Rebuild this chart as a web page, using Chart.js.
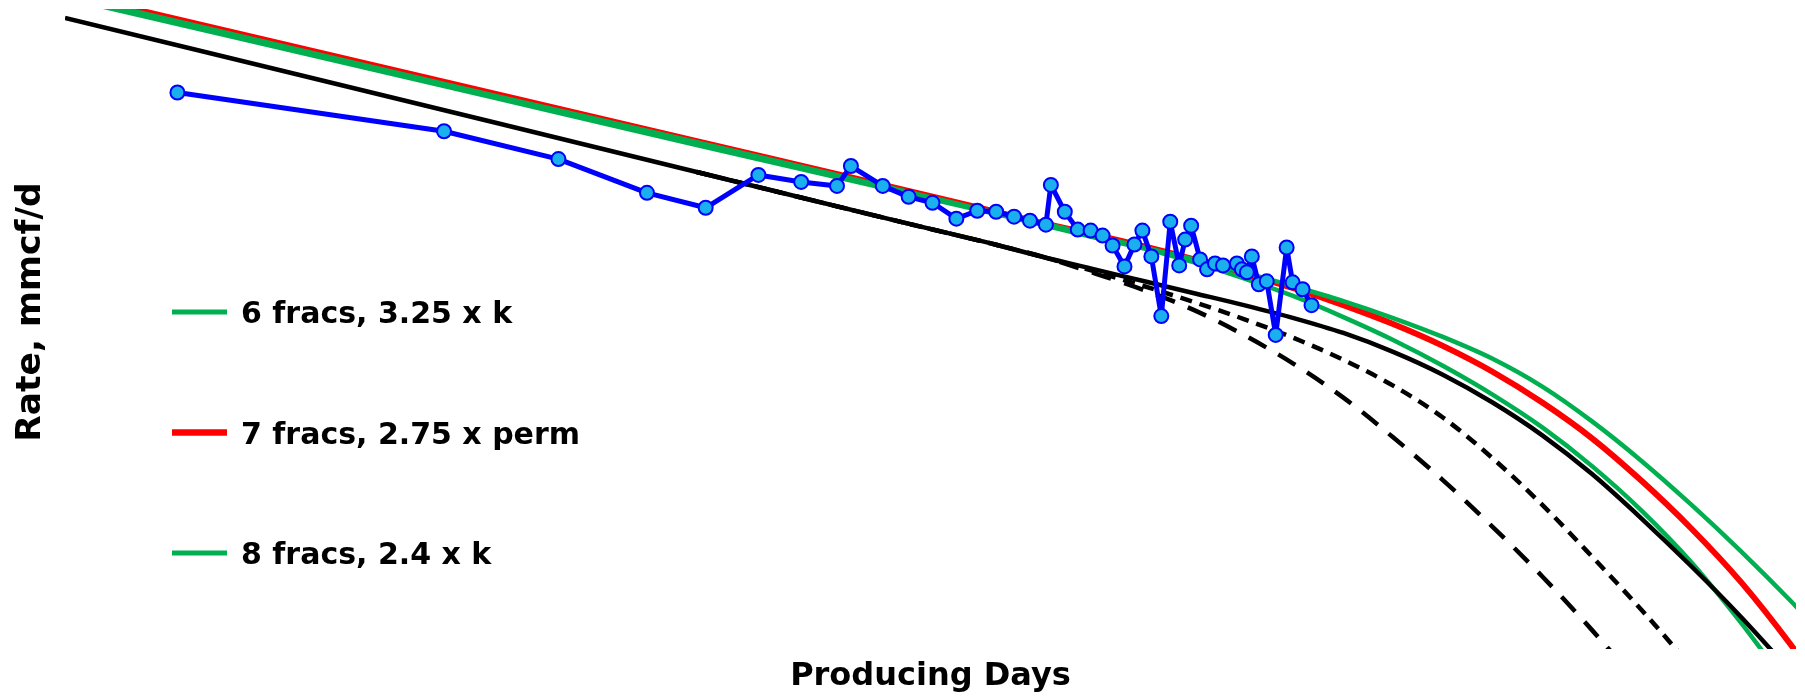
<!DOCTYPE html>
<html>
<head>
<meta charset="utf-8">
<script src="https://cdn.jsdelivr.net/npm/chart.js@4"></script>
<style>
  html, body { margin: 0; padding: 0; background: #fff; }
  #wrap { width: 1805px; height: 697px; }
</style>
</head>
<body>
<div id="wrap"><canvas id="chart"></canvas></div>
<script>
// values (no tick labels on the original, units are arbitrary)

// measured production
const prodDays = [113, 381, 496, 585, 644, 697, 740, 776, 790, 822, 848, 872, 896, 917, 936, 954,
  970, 986, 991, 1005, 1018, 1031, 1043, 1053, 1065, 1075, 1083, 1092, 1102, 1111, 1120, 1126,
  1132, 1141, 1148, 1156, 1164, 1178, 1183, 1188, 1193, 1200, 1208, 1217, 1228, 1234, 1244, 1253];
const prodRate = [5.60, 5.21, 4.93, 4.59, 4.44, 4.77, 4.70, 4.66, 4.86, 4.66, 4.55, 4.49, 4.33, 4.41, 4.40, 4.35,
  4.31, 4.27, 4.67, 4.40, 4.22, 4.21, 4.16, 4.06, 3.85, 4.07, 4.21, 3.95, 3.35, 4.30, 3.86, 4.12,
  4.26, 3.92, 3.82, 3.88, 3.86, 3.88, 3.82, 3.79, 3.95, 3.67, 3.70, 3.16, 4.04, 3.69, 3.62, 3.46];

// base model (black solid)
const baseDays = [0, 435, 635, 835, 935, 985, 1035, 1085, 1135, 1185, 1235, 1285, 1335, 1385, 1435,
  1485, 1535, 1585, 1635, 1685, 1735];
const baseRate = [6.35, 5.29, 4.80, 4.31, 4.07, 3.94, 3.82, 3.70, 3.58, 3.46, 3.33, 3.18, 2.99, 2.76, 2.48,
  2.15, 1.76, 1.31, 0.83, 0.32, -0.23];

// black dashed cases
const dashADays = [635, 835, 935, 985, 1035, 1085, 1135, 1185, 1235, 1285, 1335, 1385, 1435, 1485, 1535, 1585, 1635];
const dashARate = [4.80, 4.31, 4.07, 3.94, 3.80, 3.65, 3.49, 3.32, 3.13, 2.91, 2.65, 2.33, 1.92, 1.45, 0.93, 0.39, -0.18];
const dashBDays = [635, 835, 935, 985, 1035, 1085, 1135, 1185, 1235, 1285, 1335, 1385, 1435, 1485, 1535, 1585];
const dashBRate = [4.80, 4.31, 4.07, 3.94, 3.78, 3.61, 3.41, 3.16, 2.87, 2.53, 2.13, 1.70, 1.23, 0.73, 0.19, -0.38];

// 6 fracs, 3.25 x k
const frac6Days = [35, 435, 635, 835, 935, 985, 1035, 1085, 1135, 1185, 1235, 1285, 1335, 1385, 1435,
  1485, 1535, 1585, 1635, 1685, 1735, 1785];
const frac6Rate = [6.50, 5.56, 5.10, 4.63, 4.39, 4.28, 4.16, 4.04, 3.92, 3.79, 3.65, 3.50, 3.33, 3.14, 2.92,
  2.64, 2.29, 1.89, 1.45, 0.98, 0.48, -0.05];

// 7 fracs, 2.75 x perm
const frac7Days = [35, 435, 635, 835, 935, 985, 1035, 1085, 1135, 1185, 1235, 1285, 1335, 1385, 1435,
  1485, 1535, 1585, 1635, 1685, 1735, 1785];
const frac7Rate = [6.52, 5.58, 5.11, 4.64, 4.40, 4.28, 4.17, 4.05, 3.92, 3.78, 3.63, 3.46, 3.27, 3.05, 2.79,
  2.48, 2.12, 1.69, 1.21, 0.67, 0.04, -0.66];

// 8 fracs, 2.4 x k
const frac8Days = [35, 435, 635, 835, 935, 985, 1035, 1085, 1135, 1185, 1235, 1285, 1335, 1385, 1435,
  1485, 1535, 1585, 1635, 1685, 1735];
const frac8Rate = [6.47, 5.54, 5.07, 4.61, 4.38, 4.26, 4.14, 4.03, 3.89, 3.73, 3.55, 3.34, 3.11, 2.85, 2.56,
  2.23, 1.84, 1.39, 0.87, 0.26, -0.41];

const xy = (xs, ys) => xs.map((x, i) => ({ x: x, y: ys[i] }));

const GREEN = "#00B050";
const RED = "#FF0000";
const BLUE = "#0000FF";
const TITLE_FONT = "bold 34.5px 'DejaVu Sans'";

// legend drawn inside the plot, like the original
const fracLegend = {
  id: "fracLegend",
  afterDraw(chart, args, opts) {
    const ctx = chart.ctx;
    ctx.save();
    chart.data.datasets.forEach(ds => {
      if (ds.legendRow === undefined) return;
      const y = opts.top + ds.legendRow * opts.step;
      ctx.strokeStyle = ds.borderColor;
      ctx.lineWidth = ds.borderWidth + 0.5;
      ctx.beginPath();
      ctx.moveTo(opts.x, y);
      ctx.lineTo(opts.x + opts.lineLen, y);
      ctx.stroke();
      ctx.fillStyle = "#000";
      ctx.font = "bold 30px 'DejaVu Sans'";
      ctx.textBaseline = "alphabetic";
      ctx.fillText(ds.label, opts.x + opts.lineLen + 14, y + 11);
    });
    ctx.restore();
  }
};

// rotated y axis title, sitting a little above the middle as in the original
const rateTitle = {
  id: "rateTitle",
  afterDraw(chart, args, opts) {
    const ctx = chart.ctx;
    ctx.save();
    ctx.translate(opts.x, opts.y);
    ctx.rotate(-Math.PI / 2);
    ctx.fillStyle = "#000";
    ctx.font = TITLE_FONT;
    ctx.textAlign = "center";
    ctx.textBaseline = "middle";
    ctx.fillText(opts.text, 0, 0);
    ctx.restore();
  }
};

const ctx = document.getElementById("chart").getContext("2d");
new Chart(ctx, {
  type: "line",
  data: {
    datasets: [
      {
        label: "Production",
        data: xy(prodDays, prodRate),
        borderColor: BLUE,
        borderWidth: 5,
        borderJoinStyle: "round",
        pointRadius: 7,
        pointBorderWidth: 2,
        pointBorderColor: BLUE,
        pointBackgroundColor: "#1AB0EE",
        tension: 0,
        order: 0
      },
      {
        label: "Base",
        data: xy(baseDays, baseRate),
        borderColor: "#000",
        borderWidth: 4.5,
        pointRadius: 0,
        cubicInterpolationMode: "monotone",
        order: 1
      },
      {
        label: "6 fracs, 3.25 x k",
        data: xy(frac6Days, frac6Rate),
        borderColor: GREEN,
        borderWidth: 4.5,
        pointRadius: 0,
        cubicInterpolationMode: "monotone",
        legendRow: 0,
        order: 2
      },
      {
        label: "7 fracs, 2.75 x perm",
        data: xy(frac7Days, frac7Rate),
        borderColor: RED,
        borderWidth: 6,
        pointRadius: 0,
        cubicInterpolationMode: "monotone",
        legendRow: 1,
        order: 4
      },
      {
        label: "8 fracs, 2.4 x k",
        data: xy(frac8Days, frac8Rate),
        borderColor: GREEN,
        borderWidth: 4.5,
        pointRadius: 0,
        cubicInterpolationMode: "monotone",
        legendRow: 2,
        order: 3
      },
      {
        label: "Case A",
        data: xy(dashADays, dashARate),
        borderColor: "#000",
        borderWidth: 4.5,
        borderDash: [12, 8],
        pointRadius: 0,
        cubicInterpolationMode: "monotone",
        order: 5
      },
      {
        label: "Case B",
        data: xy(dashBDays, dashBRate),
        borderColor: "#000",
        borderWidth: 4.5,
        borderDash: [20, 14],
        pointRadius: 0,
        cubicInterpolationMode: "monotone",
        order: 6
      }
    ]
  },
  options: {
    responsive: true,
    maintainAspectRatio: false,
    animation: false,
    clip: 0,
    layout: { padding: { left: 65, right: 0, top: 5, bottom: 0 } },
    plugins: {
      legend: { display: false },
      tooltip: { enabled: false },
      fracLegend: { x: 172, lineLen: 55, top: 312, step: 120.5 },
      rateTitle: { text: "Rate, mmcf/d", x: 31, y: 312 }
    },
    scales: {
      x: {
        type: "linear",
        min: 0,
        max: 1740,
        ticks: { display: false },
        grid: { display: false, drawTicks: false },
        border: { display: false },
        title: {
          display: true,
          text: "Producing Days",
          color: "#000",
          font: { family: "DejaVu Sans", size: 32, weight: "bold" },
          padding: { top: 8.6, bottom: 1 }
        }
      },
      y: {
        type: "linear",
        display: false,
        min: 0,
        max: 6.44
      }
    }
  },
  plugins: [fracLegend, rateTitle]
});
</script>
</body>
</html>
